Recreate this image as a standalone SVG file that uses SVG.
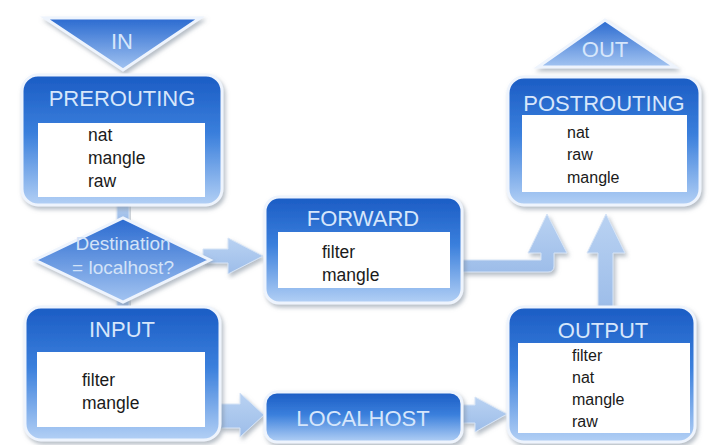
<svg xmlns="http://www.w3.org/2000/svg" width="716" height="445" viewBox="0 0 716 445">
<defs>
<linearGradient id="boxg" x1="0" y1="0" x2="0" y2="1">
<stop offset="0" stop-color="#1b5cc4"/>
<stop offset="0.45" stop-color="#3a7fdc"/>
<stop offset="1" stop-color="#b3d0f5"/>
</linearGradient>
<linearGradient id="trig" x1="0" y1="0" x2="0" y2="1">
<stop offset="0" stop-color="#2a6ad0"/>
<stop offset="1" stop-color="#a3c4f1"/>
</linearGradient>
<linearGradient id="arrg" x1="0" y1="0" x2="0" y2="1">
<stop offset="0" stop-color="#b9d2f2"/>
<stop offset="1" stop-color="#9dbde9"/>
</linearGradient>
<filter id="sh" x="-10%" y="-10%" width="125%" height="125%">
<feDropShadow dx="2" dy="3" stdDeviation="2" flood-color="#7a8797" flood-opacity="0.55"/>
</filter>
</defs>
<style>
.box{fill:url(#boxg);stroke:#eef4fd;stroke-width:3;filter:url(#sh)}
.tri{fill:url(#trig);stroke:#eef4fd;stroke-width:3;filter:url(#sh)}
.inner{fill:#ffffff}
.hd{font-family:"Liberation Sans",Arial,sans-serif;font-size:22px;fill:#d6e6fb;text-anchor:middle}
.tx{font-family:"Liberation Sans",Arial,sans-serif;font-size:17.5px;fill:#1a1a1a}
.sm{font-family:"Liberation Sans",Arial,sans-serif;font-size:16px;fill:#1a1a1a}
.dt{font-family:"Liberation Sans",Arial,sans-serif;font-size:19px;fill:#d3e3f8;text-anchor:middle}
.arr{fill:url(#arrg);stroke:#d6e4f6;stroke-width:1;filter:url(#sh)}
</style>
<rect width="716" height="445" fill="#ffffff"/>

<g id="connectors">
<rect class="arr" x="117" y="202" width="12" height="18"/>
<rect class="arr" x="117" y="297" width="12" height="13"/>
<polygon class="arr" points="203,249 228,249 228,238 263,256 228,274 228,263 203,263"/>
<path class="arr" d="M462,260 L541,260 L541,253 L528,253 L547,214 L567,253 L554,253 L554,266 Q554,272 548,272 L462,272 Z"/>
<path class="arr" d="M598,307 L598,253 L587,253 L606,214 L625,253 L613,253 L613,307 Z"/>
<polygon class="arr" points="220,404 240,404 240,393 264,415 240,437 240,428 220,428"/>
<polygon class="arr" points="462,405 475,405 475,397 507,414 475,432 475,423 462,423"/>
</g>

<g id="in">
<polygon class="tri" points="45,18 200,18 123,70"/>
<text class="hd" x="122" y="49" font-size="20">IN</text>
</g>

<g id="prerouting">
<rect class="box" x="22" y="75" width="200" height="130" rx="16"/>
<text class="hd" x="122" y="106">PREROUTING</text>
<rect class="inner" x="38" y="123" width="167" height="74"/>
<text class="tx" x="88" y="141">nat</text>
<text class="tx" x="88" y="164">mangle</text>
<text class="tx" x="88" y="187">raw</text>
</g>

<g id="decision">
<polygon class="tri" points="35,260 123,218 210,260 123,302"/>
<text class="dt" x="123" y="250">Destination</text>
<text class="dt" x="123" y="274">= localhost?</text>
</g>

<g id="input">
<rect class="box" x="25" y="307" width="195" height="133" rx="16"/>
<text class="hd" x="122" y="337">INPUT</text>
<rect class="inner" x="37" y="352" width="168" height="75"/>
<text class="tx" x="82" y="386">filter</text>
<text class="tx" x="82" y="409">mangle</text>
</g>

<g id="forward">
<rect class="box" x="265" y="197" width="197" height="106" rx="14"/>
<text class="hd" x="363" y="226">FORWARD</text>
<rect class="inner" x="278" y="232" width="172" height="56"/>
<text class="tx" x="322" y="258">filter</text>
<text class="tx" x="322" y="281">mangle</text>
</g>

<g id="localhost">
<rect class="box" x="265" y="392" width="197" height="50" rx="12"/>
<text class="hd" x="363" y="426">LOCALHOST</text>
</g>

<g id="out">
<polygon class="tri" points="605,20 538,67 675,67"/>
<text class="hd" x="605" y="57" font-size="19">OUT</text>
</g>

<g id="postrouting">
<rect class="box" x="508" y="77" width="192" height="128" rx="16"/>
<text class="hd" x="604" y="111">POSTROUTING</text>
<rect class="inner" x="522" y="115" width="165" height="77"/>
<text class="sm" x="567" y="138">nat</text>
<text class="sm" x="567" y="160">raw</text>
<text class="sm" x="567" y="183">mangle</text>
</g>

<g id="output">
<rect class="box" x="508" y="307" width="187" height="135" rx="16"/>
<text class="hd" x="603" y="338">OUTPUT</text>
<rect class="inner" x="518" y="343" width="172" height="90"/>
<text class="sm" x="572" y="361">filter</text>
<text class="sm" x="572" y="383">nat</text>
<text class="sm" x="572" y="405">mangle</text>
<text class="sm" x="572" y="427">raw</text>
</g>
</svg>
